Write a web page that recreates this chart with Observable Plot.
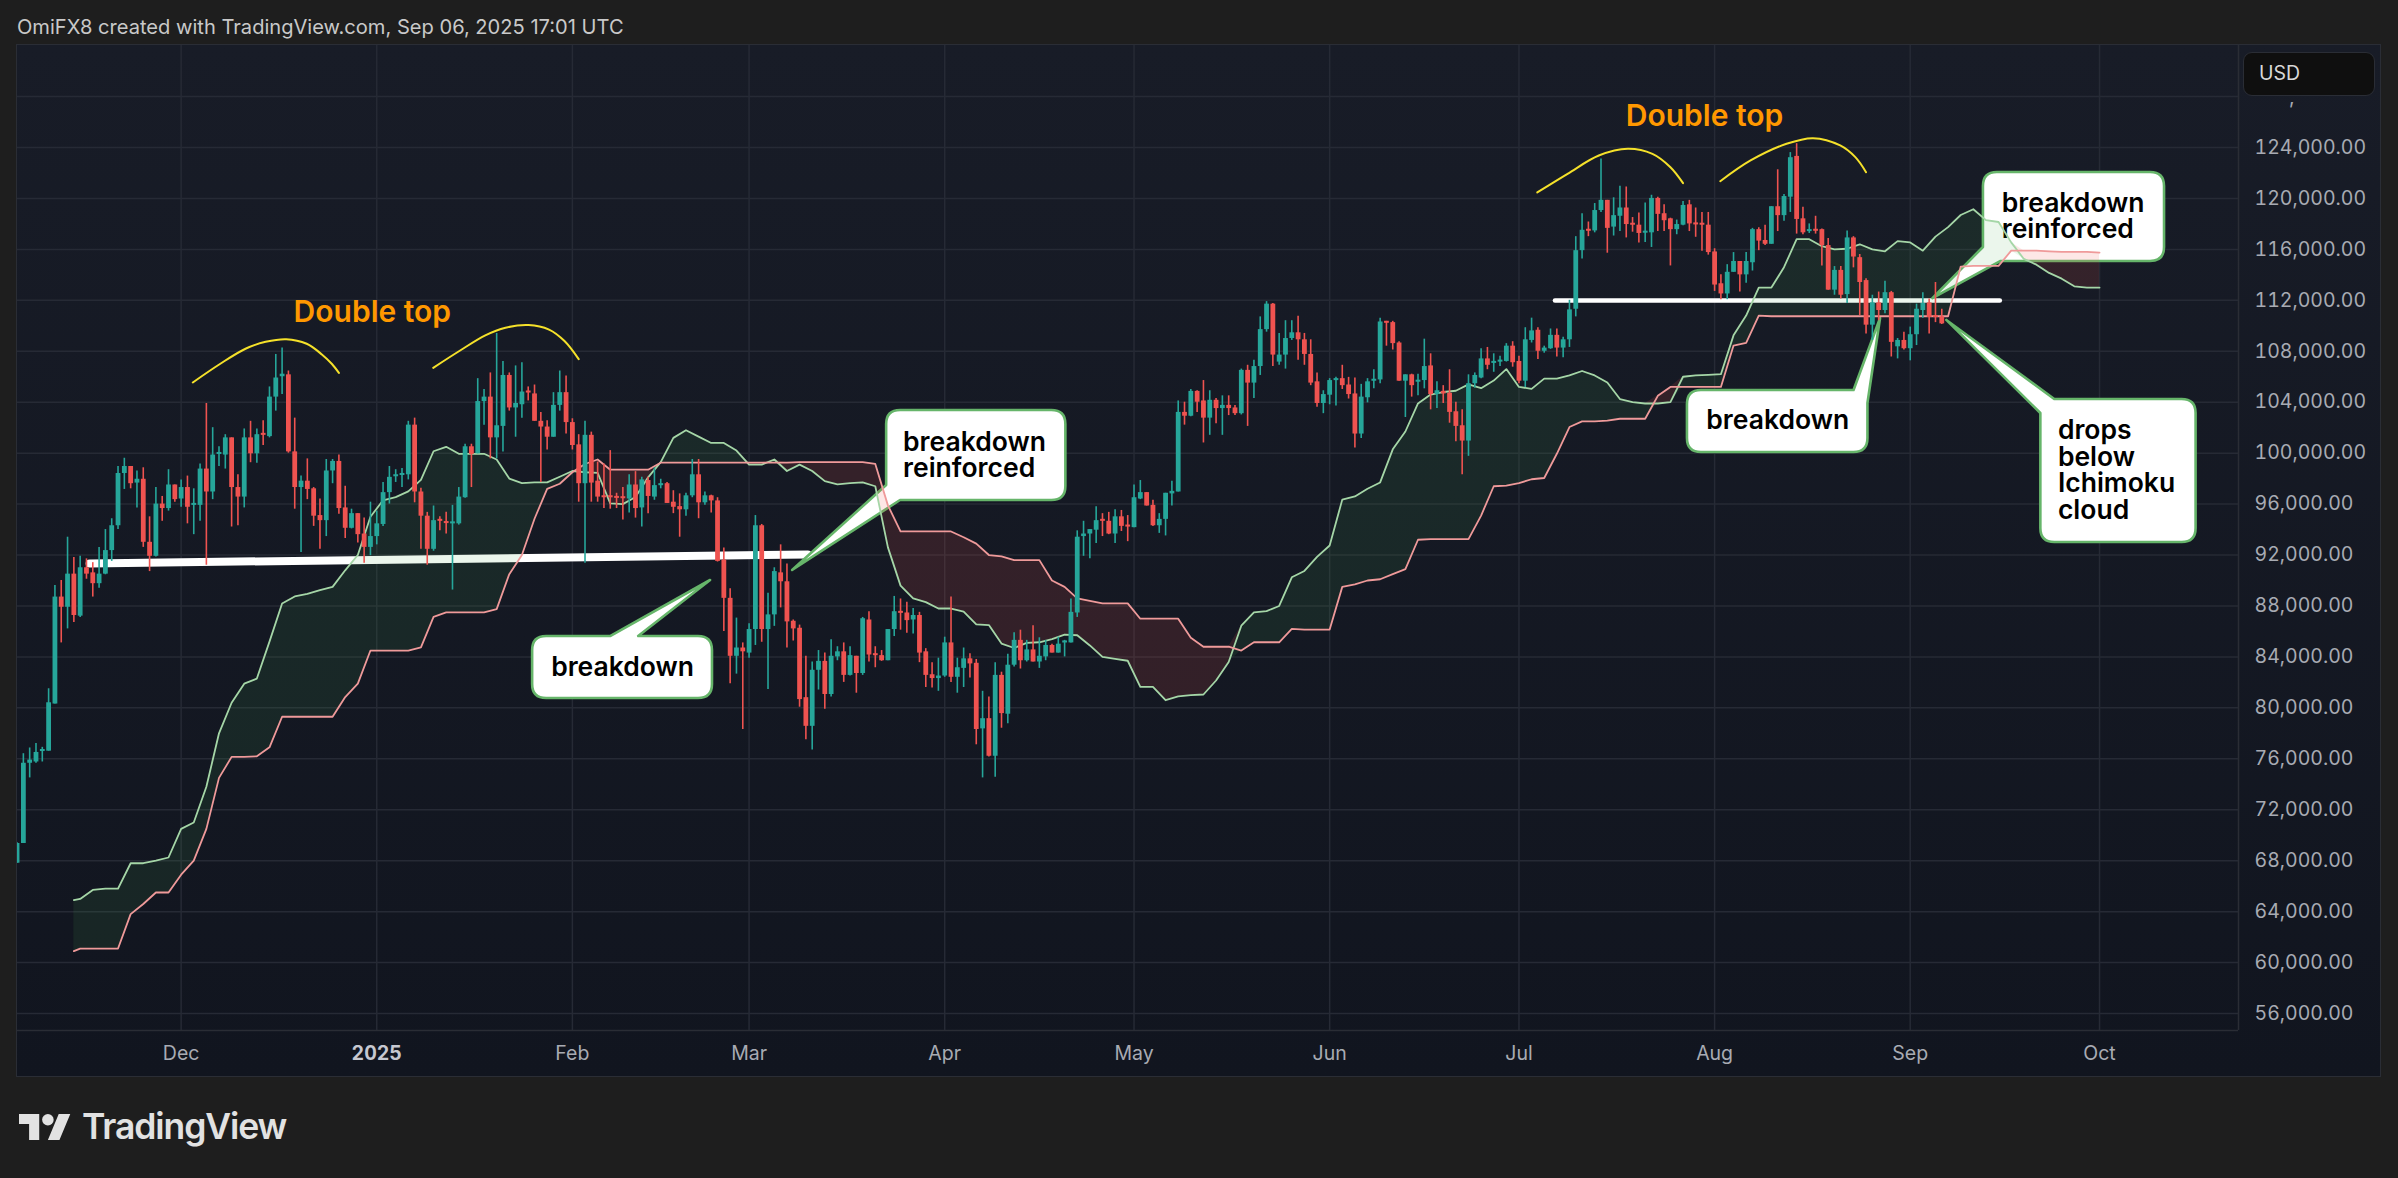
<!DOCTYPE html>
<html><head><meta charset="utf-8">
<script src="https://cdn.jsdelivr.net/npm/d3@7"></script>
<script src="https://cdn.jsdelivr.net/npm/@observablehq/plot@0.6"></script>
<style>
html,body{margin:0;padding:0;background:#1e1e1e;overflow:hidden;width:2398px;height:1178px;position:relative;font-family:Inter,sans-serif}
#panel{position:absolute;left:16px;top:44px;width:2365px;height:1033px;box-sizing:border-box;border:1.5px solid #2a2d35;background:linear-gradient(#181c27,#11151f)}
#head{position:absolute;left:17px;top:15px;font-size:20.1px;line-height:24px;color:#c9c9c9;white-space:nowrap}
#usd{position:absolute;left:2243px;top:52px;width:132px;height:44px;box-sizing:border-box;background:#0f0f0f;border:1.5px solid #2a2d35;border-radius:9px;color:#d8d8d8;font-size:19.5px;line-height:41px;padding-left:15px}
#comma{position:absolute;left:2289px;top:85px;font-size:19.5px;color:#a8abb3}
#logo{position:absolute;left:19px;top:1114px}
#brand{position:absolute;left:82px;top:1104px;font-size:35.5px;line-height:46px;font-weight:600;letter-spacing:-1.1px;color:#e2e2e2}
#chart{position:absolute;left:0;top:0}
</style></head><body>
<div id="panel"></div>
<div id="chart"></div>
<div id="head">OmiFX8 created with TradingView.com, Sep 06, 2025 17:01 UTC</div>
<div id="comma">,</div>
<div id="usd">USD</div>
<svg id="logo" width="52" height="26" viewBox="0 4 36 18" fill="#e2e2e2"><path d="M14 22H7V11H0V4h14v18zM28 22h-8l7.5-18h8L28 22z"/><circle cx="20" cy="8" r="4"/></svg>
<div id="brand">TradingView</div>
<script>
// Daily BTC/USD candles, thousands of USD: [open, high, low, close], first row 2024-11-05
const nov2024=[[67.8,69.4,67.8,69.35],[69.35,76.4,69.35,75.65],[75.65,76.85,74.5,75.9],[75.75,77.2,75.65,76.5],[76.6,76.9,75.75,76.7],[76.6,81.5,76.6,80.4],[80.3,89.6,80.3,88.7],[88.7,90,85.1,87.9],[87.9,93.4,86.2,90.5],[90.5,91.8,86.7,87.25],[87.2,91.9,87.1,91],[91,91.7,90.1,90.5],[90.6,91.4,88.7,89.75],[89.75,92.6,89.4,90.5],[90.5,94,90.45,92.35],[92.35,94.85,91.5,94.3],[94.3,98.95,94,98.4],[98.4,99.6,97.15,98.95],[98.95,98.95,97.2,97.6],[97.65,98.6,95.7,97.95],[97.95,98.85,92.6,93],[93,95,90.7,91.9],[91.9,97.3,91.85,96],[96,96.6,94.65,95.65],[95.65,98.7,95.45,97.5],[97.5,97.5,96.15,96.35]];
const dec2024=[[96.4,97.9,95.75,97.3],[97.3,98.2,94.45,95.75],[95.95,97.2,93.6,96],[95.9,99.15,94.65,98.75],[98.75,103.9,91.2,96.95],[96.95,102,96.35,99.85],[99.95,100.5,98.95,100],[99.85,101.45,98.75,101.2],[101.2,101.2,94.2,97.3],[97.3,98.3,94.3,96.55],[96.55,101.9,95.7,101.2],[101.2,102.5,99.25,99.95],[99.95,101.9,99.2,101.45],[101.5,102.55,100.6,101.45],[101.3,105.2,101.2,104.4],[104.4,107.75,103.3,105.9],[106,108.25,104.6,106.2],[106.15,106.45,100,100.1],[100.1,102.75,95.6,97.3],[97.3,98.2,92.2,97.8],[97.8,99.55,96.35,97.15],[97.2,97.3,94.25,95.05],[95.1,96.4,92.45,94.7],[94.7,99.5,93.45,98.6],[98.6,99.5,97.6,99.35],[99.35,99.85,95.2,95.65],[95.7,97.4,93.3,94.1],[94.1,95.6,94.05,95.25],[95.25,95.25,92.95,93.6],[93.65,94.9,91.35,92.6],[92.6,96.15,91.95,93.45]];
const jan2025=[[93.45,95.45,92.8,94.45],[94.4,97.7,94.25,96.9],[96.9,98.95,96,98.1],[98.15,98.7,97.7,98.3],[98.3,98.8,97.3,98.35],[98.3,102.5,97.9,102.2],[102.2,102.75,96.1,96.95],[96.95,97.25,92.45,95.05],[95.05,95.35,91.2,92.45],[92.45,95.85,92.3,94.7],[94.8,95,93.9,94.65],[94.6,95.35,93.65,94.5],[94.5,95.9,89.25,94.55],[94.45,97.3,94.35,96.55],[96.5,100.7,96.45,100.5],[100.5,100.7,97.3,99.9],[99.95,105.85,99.95,104.05],[104.05,105,102.2,104.4],[104.4,106.3,99.55,101.2],[101.2,109.4,99.55,102.15],[102.1,107.2,100.1,106.1],[106.1,106.3,103.3,103.55],[103.55,106.85,101.25,103.9],[103.8,107.1,102.75,104.8],[104.85,105.2,104.1,104.75],[104.65,105.35,102.5,102.5],[102.5,103.2,97.7,102.05],[102.05,102.55,100.25,101.25],[101.25,104.75,101.25,103.75],[103.75,106.45,103.3,104.75],[104.75,106.05,101.5,102.4]];
const feb2025=[[102.4,102.7,100.25,100.6],[100.65,101.45,96.15,97.6],[97.6,102.5,91.35,101.4],[101.4,101.65,96.15,97.65],[97.8,99.3,96.15,96.55],[96.6,99.15,95.65,96.55],[96.6,100.2,95.6,96.55],[96.55,96.85,95.65,96.5],[96.55,97.3,94.75,96.45],[96.4,98.3,95.3,97.5],[97.5,98.55,94.9,95.65],[95.7,98.1,94.2,97.9],[97.85,98.1,95.25,96.6],[96.55,98.85,96.3,97.45],[97.45,97.95,97.2,97.6],[97.6,97.7,96.05,96.05],[96.15,97.05,95.25,95.75],[95.8,96.8,93.4,95.55],[95.55,96.85,95.05,96.65],[96.65,99.5,96.5,98.3],[98.3,99.5,94.85,96.1],[96.1,96.95,95.9,96.65],[96.65,96.7,95.3,96.25],[96.25,96.5,91.45,91.5],[91.6,92.55,86,88.6],[88.6,89.35,81.9,84.05],[84.05,87.05,82.65,84.7],[84.7,85.1,78.3,84.4]];
const mar2025=[[84.3,86.6,83.9,86.15],[86.15,95.1,84.9,94.3],[94.3,94.4,85.15,86.15],[86.15,89,81.45,87.3],[87.3,91,86.4,90.7],[90.6,92.8,87.85,89.9],[89.9,91.3,84.7,86.75],[86.8,86.9,85.25,86.2],[86.25,86.5,80.05,80.65],[80.8,84.05,77.5,78.55],[78.55,83.6,76.7,82.95],[82.95,84.5,81.4,83.65],[83.65,84.3,79.9,81.05],[81.05,85.35,80.85,84.05],[84,84.8,83.7,84.4],[84.4,85.1,82,82.55],[82.55,84.8,82.5,84.1],[84.05,84.05,81.15,82.7],[82.7,87.1,82.55,87],[86.9,87.55,83.6,84.15],[84.25,84.8,83.15,84.1],[84.1,84.5,83.65,83.7],[83.7,86.15,83.7,86.15],[86.15,88.75,85.6,87.55],[87.55,88.55,86.1,87.45],[87.45,88.3,85.85,86.85],[86.9,87.8,85.8,87.25],[87.25,87.5,83.55,84.3],[84.4,84.65,81.6,82.55],[82.6,83.55,81.55,82.3],[82.3,83.9,81.3,82.5]];
const apr2025=[[82.5,85.55,82.4,85.1],[85.1,88.7,82,82.4],[82.4,83.9,81.15,83.15],[83.1,84.7,81.6,83.85],[83.85,84.25,82.35,83.45],[83.5,83.8,77.1,78.3],[78.35,81.3,74.5,79.15],[79.15,80.85,76.15,76.2],[76.2,83.55,74.55,82.55],[82.55,82.8,78.4,79.55],[79.5,84.2,78.75,83.35],[83.35,85.9,83.2,85.3],[85.3,86.1,83.05,83.7],[83.7,85.3,83.6,84.55],[84.55,86.45,83.6,83.6],[83.6,85.5,83.1,84.05],[84,85.3,83.7,84.9],[84.9,85,84.3,84.3],[84.3,85.55,84.3,85],[85.15,85.3,84,85.2],[85.1,88.55,85.1,87.5],[87.45,93.9,87.1,93.4],[93.45,94.65,91.9,93.65],[93.65,94,91.7,94],[93.95,95.8,92.9,94.7],[94.75,95.25,93.45,94.7],[94.65,95.35,93.6,93.65],[93.65,95.55,92.9,95],[95,95.5,93.85,94.25],[94.3,95.1,93.05,94.25]];
const may2025=[[94.15,97.5,94.15,96.5],[96.4,97.85,96.35,96.9],[96.9,96.9,95.85,95.85],[95.9,96.3,94.25,94.3],[94.3,95.25,93.7,94.8],[94.8,96.85,93.5,96.85],[96.8,97.8,95.85,97],[96.95,104.1,96.95,103.2],[103.2,104,102.2,102.9],[102.9,105,102.85,104.85],[104.85,104.9,103.2,104],[104.1,105.7,100.8,102.75],[102.75,104.9,101.4,104.15],[104.15,104.3,102.3,103.5],[103.5,104.5,101.4,103.75],[103.75,104.5,102.95,103.5],[103.55,103.75,102.95,103.1],[103.1,106.6,103,106.5],[106.5,106.9,102.1,105.5],[105.5,107.3,104.3,106.8],[106.8,110.7,106.1,109.7],[109.7,111.9,109.5,111.7],[111.7,111.75,106.8,107.7],[107.15,109.4,106.9,107.7],[107.7,110.4,106.6,109],[109,110.4,108.85,109.45],[109.45,110.75,107.3,108.9],[108.9,109.4,106.9,107.75],[107.75,108.9,105.3,105.5],[105.6,106.3,103.6,103.9],[103.9,104.9,103.1,104.6]];
const jun2025=[[104.55,105.85,103.8,105.7],[105.7,105.95,103.7,105.85],[105.85,106.9,105,105.3],[105.35,105.95,104.25,104.6],[104.65,105.9,100.4,101.5],[101.5,105.4,101.15,104.4],[104.35,105.85,103.95,105.6],[105.65,106.55,105.05,105.8],[105.75,110.6,105.45,110.3],[110.3,110.35,108.4,110.25],[110.25,110.35,108.1,108.6],[108.65,108.75,105.65,105.65],[105.65,106.15,102.8,106.15],[106.15,106.2,104.4,105.3],[105.6,106.2,104.5,105.7],[105.7,108.95,105.05,106.8],[106.85,107.8,103.4,104.6],[104.6,105.6,103.5,104.9],[104.85,105.3,103.9,104.65],[104.7,106.55,102.35,103.2],[103.25,104,100.9,102.1],[102.15,103.4,98.3,100.95],[100.95,106.15,99.75,105.45],[105.45,106.3,105.1,106.1],[105.9,108.2,105.85,107.4],[107.4,108.3,106.55,106.9],[107.1,107.8,106.35,107.15],[107.15,107.6,106.8,107.3],[107.2,108.6,107.15,108.4],[108.4,108.75,106.75,107.1]];
const jul2025=[[107.2,107.6,105.45,105.65],[105.65,109.85,105.15,108.9],[108.85,110.6,108.65,109.6],[109.65,109.85,107.35,108],[108,108.4,107.85,108.25],[108.2,109.75,108.15,109.25],[109.25,109.75,107.55,108.25],[108.25,109.1,107.5,108.9],[108.9,112,108.3,111.25],[111.3,117,110.7,115.9],[115.9,118.8,115.25,117.5],[117.55,118.15,117,117.45],[117.45,119.6,117.3,119.05],[119.05,123.1,118.9,119.85],[119.85,119.85,115.7,117.65],[117.75,120.05,117.05,118.65],[118.6,120.95,117.4,119.25],[119.25,120.9,116.9,117.95],[118,118.5,117.35,117.95],[117.9,118.85,116.5,117.25],[117.3,119.65,116.55,117.4],[117.3,120.25,116.15,120],[120,120.1,117.4,118.75],[118.8,119.5,117.4,118.25],[118.4,118.45,114.7,117.55],[117.55,118.3,117.15,117.95],[117.9,119.75,117.85,119.45],[119.5,119.85,117.4,118],[118.05,119.25,116.95,117.95],[118,118.9,115.85,117.95],[117.9,118.9,115.55,115.75]];
const aug2025=[[115.8,116.05,112.7,113.2],[113.3,114,112.05,112.5],[112.5,114.8,112.05,114.2],[114.2,115.75,114.2,115.05],[115.05,115.05,112.65,114],[114,115.75,113.35,115.05],[114.95,117.65,114.3,117.55],[117.55,117.7,115.9,116.65],[116.7,117.9,116.3,116.4],[116.4,119.35,116.4,119.35],[119.35,122.25,117.4,118.65],[118.65,120.3,118.2,120.15],[120.1,123.6,118.9,123.2],[123.3,124.3,117.2,118.35],[118.4,119.3,117.15,117.3],[117.4,118,117.25,117.55],[117.55,118.6,117.2,117.45],[117.55,117.6,114.7,116.3],[116.3,116.85,112.8,112.8],[112.8,114.65,112.4,114.35],[114.35,114.65,112.1,112.4],[112.45,117.45,111.75,116.9],[116.9,117,114.55,115.4],[115.35,115.6,110.8,113.4],[113.55,113.7,109.35,110.05],[110.05,112.4,108.85,111.8],[111.8,112.65,110.4,111.2],[111.2,113.5,110.95,112.6],[112.6,112.7,107.55,108.7],[108.35,109,107.4,108.85],[108.85,109.5,108.1,108.2]];
const sep2025=[[108.2,109.9,107.25,109.3],[109.3,111.7,108.45,111.3],[111.2,112.6,110.6,111.75],[111.8,112.1,109.35,110.65],[110.75,113.4,110.25,110.7],[110.7,111.3,110.1,110.15]];

// Ichimoku leading spans, thousands of USD; cloudDays counts days from 2024-12-01
const cloudDays=[-17,-16,-14,-12,-10,-8,-6,-4,-2,0,2,4,6,8,10,12,14,16,18,20,22,24,26,28,30,32,34,36,38,40,42,44,46,48,50,52,54,56,58,60,62,64,66,68,70,72,74,76,78,80,82,84,86,88,90,92,94,96,98,100,102,104,106,108,110,112,114,116,118,120,122,124,126,128,130,132,134,136,138,140,142,144,146,148,150,152,154,156,158,160,162,164,166,168,170,172,174,176,178,180,182,184,186,188,190,192,194,196,198,200,202,204,206,208,210,212,214,216,218,220,222,224,226,228,230,232,234,236,238,240,242,244,246,248,250,252,254,256,258,260,262,264,266,268,270,272,274,276,278,280,282,284,286,288,290,292,294,296,298,300,302,304];
const spanA=[64.9,65,65.7,65.8,65.8,67.8,67.8,68,68.25,70.5,71,73.8,78,80.4,81.9,82.3,85.2,88.2,88.75,88.95,89.25,89.5,90.8,92,95,96.3,96.55,97,97.9,100.15,100.5,99.95,99.95,99.95,99.5,98,97.65,97.7,97.7,98.15,98.6,98.5,98.45,96.05,96,96.55,98.1,99.3,101.2,101.8,101.3,100.8,100.8,100.2,99.1,99.1,99.5,98.6,99.1,98.6,97.8,97.55,97.65,97.7,97.4,92.6,89.6,88.6,88.3,87.8,87.8,87.55,86.55,86.5,85.05,84.7,85.1,85.15,85.4,85.75,85.7,84.9,84,83.85,83.7,81.65,81.65,80.6,80.9,81,81.05,82.15,83.6,86.45,87.5,87.6,88,90.25,90.75,91.85,92.75,96.35,96.6,97.2,97.7,100.3,101.7,103.9,104.6,104.8,104.9,105.4,105.1,105.7,106.6,105.2,105.05,105.85,105.85,106.1,106.45,106.1,105.55,104.25,104,103.9,103.9,104,106,106.1,106.15,106.2,109.25,110.8,113,113,114.6,116.8,116.8,116.25,116,116.05,116.4,116,115.85,116.65,116.55,115.9,117,117.75,118.7,119.15,118.3,118.15,116.55,115.25,114.8,114.15,113.7,113.1,113,113];
const spanB=[60.9,61.1,61.1,61.1,61.1,63.8,64.6,65.5,65.5,66.9,68,70.5,74.5,76.15,76.15,76.2,76.9,79.3,79.3,79.3,79.3,79.3,80.85,81.9,84.5,84.5,84.5,84.5,84.75,87.15,87.5,87.5,87.5,87.5,87.75,90.5,92,94.85,97.2,97.6,98.5,99.15,99.5,98.7,98.7,98.7,98.7,99.25,99.25,99.25,99.25,99.25,99.25,99.25,99.25,99.25,99.25,99.25,99.3,99.3,99.3,99.3,99.3,99.3,99.15,95.9,93.85,93.85,93.85,93.85,93.85,93.4,92.9,92,91.9,91.6,91.6,91.6,90,89.5,88.6,88.4,88.2,88.2,88.2,87,87,87,87,85.5,84.8,84.8,84.8,84.5,85.15,85.15,85.15,86.2,86.15,86.15,86.15,89.5,89.7,90,90.1,90.5,90.9,93.2,93.25,93.25,93.25,93.25,95.1,97.4,97.45,97.65,97.95,98.05,99.95,102.05,102.5,102.5,102.55,102.7,102.7,102.7,104.5,105.2,105.2,105.2,105.2,105.2,108.45,108.65,110.8,110.75,110.75,110.75,110.75,110.75,110.75,110.75,110.75,110.75,110.75,110.75,110.75,110.75,110.75,110.75,114.65,114.7,114.7,114.7,115.9,115.9,115.9,115.85,115.8,115.8,115.8,115.75];

// Axis ticks
const priceTicks=[56,60,64,68,72,76,80,84,88,92,96,100,104,108,112,116,120,124];
const monthDates=["2024-12-01","2025-01-01","2025-02-01","2025-03-01","2025-04-01","2025-05-01","2025-06-01","2025-07-01","2025-08-01","2025-09-01","2025-10-01"];
const monthLabels=["Dec","2025","Feb","Mar","Apr","May","Jun","Jul","Aug","Sep","Oct"];

// Drawn annotations: [day from 2024-12-01, price in thousands]
const necklineLeft=[[-14.5,91.34],[99.3,92.04]];
const necklineRight=[[217.7,111.99],[288.2,111.99]];
const arcs=[
 [[1.85,105.55],[6.15,107],[10.2,108.2],[13.4,108.74],[16.65,108.95],[19.9,108.59],[22.3,107.75],[23.9,107],[25,106.3]],
 [[39.95,106.7],[44.15,108.04],[48.2,109.25],[51.4,109.85],[55.05,110.06],[58.3,109.7],[60.75,108.8],[63,107.38]],
 [[214.9,120.47],[219.7,121.93],[224.65,123.37],[229.25,123.9],[233.15,123.5],[236,122.45],[238,121.2]],
 [[243.9,121.35],[248.7,122.98],[254.4,124.29],[258.6,124.73],[262.9,124.16],[265.3,123.24],[267,122.06]]
];
const doubleTops=[[30.3,111.04],[241.4,126.43]];
// outline of each callout; third element 1 marks a rounded box corner
const calloutShapes=[
 [[55.7,85.6,1],[68.05,85.6],[83.9,90],[72.5,85.6],[84.2,85.6,1],[84.2,80.74,1],[55.7,80.74,1]],
 [[111.8,103.35,1],[140.2,103.35,1],[140.2,96.28,1],[114,96.28],[96.9,90.79],[111.8,97.46]],
 [[238.7,104.92,1],[265.1,104.92],[269.3,110.57],[267.3,103.9],[267.3,100.05,1],[238.7,100.05,1]],
 [[285.6,122.04,1],[314.3,122.04,1],[314.3,115.05,1],[288.4,115.05],[277.6,112.14],[285.6,116.15]],
 [[296.9,104.21],[319.3,104.21,1],[319.3,92.98,1],[294.7,92.98,1],[294.7,103.11],[279.8,110.42]]
];
const calloutDay=[69.95,114.4,114.4,253,288.5,288.5,297.4,297.4,297.4,297.4];
const calloutPrice=[83.17,100.84,98.8,102.56,119.6,117.56,101.78,99.66,97.62,95.5];
const calloutText=["breakdown","breakdown","reinforced","breakdown","breakdown","reinforced","drops","below","Ichimoku","cloud"];
const calloutAnchor=["middle","start","start","middle","start","start","start","start","start","start"];

const DAY=864e5, T0=Date.UTC(2024,11,1);
const when=d=>new Date(T0+d*DAY);
const usd=k=>k*1000;
const candles=[...nov2024,...dec2024,...jan2025,...feb2025,...mar2025,...apr2025,...may2025,...jun2025,...jul2025,...aug2025,...sep2025]
 .map(([o,h,l,c],i)=>({date:when(i-26),open:usd(o),high:usd(h),low:usd(l),close:usd(c),color:c>=o?"#26a69a":"#ef5350"}));
const cloud=cloudDays.map((d,i)=>({date:when(d),a:usd(spanA[i]),b:usd(spanB[i])}));
const pts=a=>a.map(([d,p])=>({date:when(d),price:usd(p)}));
const labels=calloutText.map((t,i)=>({date:when(calloutDay[i]),price:usd(calloutPrice[i]),t,anchor:calloutAnchor[i]}));
const labelStyle={x:"date",y:"price",text:"t",fill:"#000",fontSize:26.5,fontWeight:600,fontFamily:"Inter"};

function callouts(index,{x,y}){
  const g=d3.create("svg:g");
  for(const shape of calloutShapes){
    const P=shape.map(([d,p,r])=>({x:x(when(d)),y:y(usd(p)),r:r?14:0})), n=P.length;
    let path="";
    P.forEach((p,i)=>{
      if(!p.r){path+=(i?"L":"M")+p.x+","+p.y;return;}
      const a=P[(i+n-1)%n], b=P[(i+1)%n];
      const ua=Math.hypot(a.x-p.x,a.y-p.y), ub=Math.hypot(b.x-p.x,b.y-p.y);
      path+=(i?"L":"M")+(p.x+(a.x-p.x)*p.r/ua)+","+(p.y+(a.y-p.y)*p.r/ua)+"Q"+p.x+","+p.y+" "+(p.x+(b.x-p.x)*p.r/ub)+","+(p.y+(b.y-p.y)*p.r/ub);
    });
    g.append("path").attr("d",path+"Z").attr("fill","#fff").attr("stroke","#66b56a").attr("stroke-width",2.6).attr("stroke-linejoin","round");
  }
  return g.node();
}

const grid="#262a35";
const chart=Plot.plot({
  width:2398,height:1178,marginLeft:17,marginRight:160,marginTop:45,marginBottom:148,
  style:{background:"transparent",fontFamily:"Inter"},
  x:{type:"utc",domain:[when(-25.93),when(326.02)]},
  y:{domain:[54666,132009]},
  marks:[
    Plot.ruleY([...priceTicks,128],{y:usd,stroke:grid,strokeWidth:1.5}),
    Plot.ruleX(monthDates,{x:d=>new Date(d),stroke:grid,strokeWidth:1.5}),
    Plot.ruleY([54666],{stroke:"#2a2d35",strokeWidth:1.5}),
    Plot.ruleX([when(326.02)],{stroke:"#2a2d35",strokeWidth:1.5}),
    Plot.axisY({anchor:"right",ticks:priceTicks.map(usd),tickFormat:d3.format(",.2f"),tickSize:0,tickPadding:16,fontSize:19.5,fill:"#a8abb3",label:null}),
    Plot.axisX({anchor:"bottom",ticks:monthDates.filter((d,i)=>monthLabels[i]!=="2025").map(d=>new Date(d)),tickFormat:d=>monthLabels[monthDates.indexOf(d.toISOString().slice(0,10))],tickSize:0,tickPadding:16,fontSize:19.5,fill:"#a8abb3",label:null}),
    Plot.axisX({anchor:"bottom",ticks:[new Date("2025-01-01")],tickFormat:()=>"2025",tickSize:0,tickPadding:16,fontSize:19.5,fontWeight:700,fill:"#c6c8d0",label:null}),
    Plot.line(pts(necklineLeft),{x:"date",y:"price",stroke:"#fff",strokeWidth:8,strokeLinecap:"round"}),
    Plot.line(pts(necklineRight),{x:"date",y:"price",stroke:"#fff",strokeWidth:4.5,strokeLinecap:"round"}),
    ...arcs.map(a=>Plot.line(pts(a),{x:"date",y:"price",stroke:"#f5e12a",strokeWidth:2,curve:"catmull-rom"})),
    Plot.text(doubleTops,{x:d=>when(d[0]),y:d=>usd(d[1]),text:()=>"Double top",fill:"#ff9800",fontSize:30,fontWeight:600,fontFamily:"Inter"}),
    callouts,
    Plot.text(labels.filter(d=>d.anchor==="middle"),{...labelStyle,textAnchor:"middle"}),
    Plot.text(labels.filter(d=>d.anchor==="start"),{...labelStyle,textAnchor:"start"}),
    Plot.areaY(cloud,{x:"date",y1:d=>Math.min(d.a,d.b),y2:"a",fill:"#4caf50",fillOpacity:0.11}),
    Plot.areaY(cloud,{x:"date",y1:"a",y2:d=>Math.max(d.a,d.b),fill:"#ef5350",fillOpacity:0.14}),
    Plot.lineY(cloud,{x:"date",y:"a",stroke:"#a5d6a7",strokeWidth:1.8}),
    Plot.lineY(cloud,{x:"date",y:"b",stroke:"#ef9a9a",strokeWidth:1.8}),
    Plot.ruleX(candles,{x:"date",y1:"low",y2:"high",stroke:"color",strokeWidth:1.6,clip:true}),
    Plot.ruleX(candles,{x:"date",y1:d=>Math.min((d.open+d.close)/2-80,Math.min(d.open,d.close)),y2:d=>Math.max((d.open+d.close)/2+80,Math.max(d.open,d.close)),stroke:"color",strokeWidth:4.8,clip:true})
  ]
});
document.getElementById("chart").append(chart);
</script>
</body></html>
